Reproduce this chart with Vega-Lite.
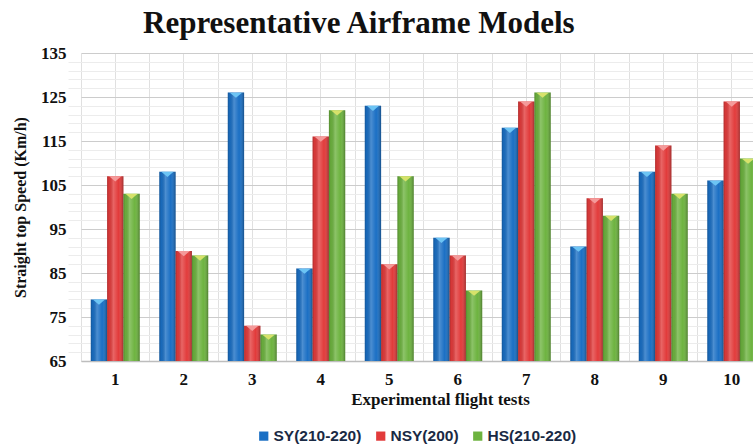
{
  "$schema": "https://vega.github.io/schema/vega-lite/v6.json",
  "autosize": "none",
  "width": 672,
  "height": 308,
  "padding": {"left": 81, "top": 53, "right": 0, "bottom": 87},
  "background": "white",
  "title": {
    "text": "Representative Airframe  Models",
    "anchor": "start",
    "frame": "group",
    "dx": 62,
    "offset": 4,
    "font": "Liberation Serif",
    "fontSize": 31,
    "fontWeight": "bold",
    "color": "#111111"
  },
  "config": {
    "view": {"stroke": null},
    "axis": {"labelFont": "Liberation Serif", "titleFont": "Liberation Serif", "labelColor": "#111111", "titleColor": "#111111"}
  },
  "data": {
    "values": [
      {"test": 1, "series": "SY(210-220)", "speed": 79},
      {"test": 1, "series": "NSY(200)", "speed": 107},
      {"test": 1, "series": "HS(210-220)", "speed": 103},
      {"test": 2, "series": "SY(210-220)", "speed": 108},
      {"test": 2, "series": "NSY(200)", "speed": 90},
      {"test": 2, "series": "HS(210-220)", "speed": 89},
      {"test": 3, "series": "SY(210-220)", "speed": 126},
      {"test": 3, "series": "NSY(200)", "speed": 73},
      {"test": 3, "series": "HS(210-220)", "speed": 71},
      {"test": 4, "series": "SY(210-220)", "speed": 86},
      {"test": 4, "series": "NSY(200)", "speed": 116},
      {"test": 4, "series": "HS(210-220)", "speed": 122},
      {"test": 5, "series": "SY(210-220)", "speed": 123},
      {"test": 5, "series": "NSY(200)", "speed": 87},
      {"test": 5, "series": "HS(210-220)", "speed": 107},
      {"test": 6, "series": "SY(210-220)", "speed": 93},
      {"test": 6, "series": "NSY(200)", "speed": 89},
      {"test": 6, "series": "HS(210-220)", "speed": 81},
      {"test": 7, "series": "SY(210-220)", "speed": 118},
      {"test": 7, "series": "NSY(200)", "speed": 124},
      {"test": 7, "series": "HS(210-220)", "speed": 126},
      {"test": 8, "series": "SY(210-220)", "speed": 91},
      {"test": 8, "series": "NSY(200)", "speed": 102},
      {"test": 8, "series": "HS(210-220)", "speed": 98},
      {"test": 9, "series": "SY(210-220)", "speed": 108},
      {"test": 9, "series": "NSY(200)", "speed": 114},
      {"test": 9, "series": "HS(210-220)", "speed": 103},
      {"test": 10, "series": "SY(210-220)", "speed": 106},
      {"test": 10, "series": "NSY(200)", "speed": 124},
      {"test": 10, "series": "HS(210-220)", "speed": 111}
    ]
  },
  "resolve": {"axis": {"x": "independent", "y": "independent"}},
  "layer": [
    {
      "mark": {"type": "bar", "clip": true},
      "encoding": {
        "x": {
          "field": "test", "type": "ordinal",
          "scale": {"range": [0, 685], "paddingInner": 0, "paddingOuter": 0},
          "axis": {
            "orient": "bottom",
            "labelAngle": 0, "labelFontSize": 17, "labelFontWeight": "bold", "labelPadding": 10,
            "ticks": false, "domainColor": "#bdbdbd", "domainWidth": 1.5,
            "grid": true, "gridColor": "#e0e0e0", "bandPosition": 0,
            "title": "Experimental flight tests", "titleFontSize": 17, "titleFontWeight": "bold",
            "titleX": 359, "titleY": 30, "titleBaseline": "top"
          }
        },
        "xOffset": {
          "field": "series", "type": "nominal",
          "sort": ["SY(210-220)", "NSY(200)", "HS(210-220)"],
          "scale": {"paddingInner": 0, "paddingOuter": 0.6}
        },
        "y": {
          "field": "speed", "type": "quantitative",
          "scale": {"domain": [65, 135], "nice": false, "zero": false},
          "axis": {
            "orient": "left",
            "values": [65, 75, 85, 95, 105, 115, 125, 135],
            "labelFontSize": 17, "labelFontWeight": "bold", "labelPadding": 15,
            "ticks": false, "domain": false,
            "grid": true, "gridColor": "#cccccc", "gridWidth": 1.2,
            "title": "Straight top Speed (Km/h)", "titleFontSize": 16, "titleFontWeight": "bold",
            "titlePadding": 12
          }
        },
        "color": {
          "field": "series", "type": "nominal",
          "sort": ["SY(210-220)", "NSY(200)", "HS(210-220)"],
          "scale": {"range": ["#1a6fc4", "#e23b3b", "#6db33f"]},
          "legend": {
            "title": null, "orient": "none", "direction": "horizontal",
            "legendX": 175, "legendY": 375,
            "symbolType": "square", "symbolSize": 85, "symbolStrokeWidth": 0,
            "labelFont": "Liberation Sans", "labelFontSize": 15.5, "labelFontWeight": "bold",
            "labelColor": "#1a2a44", "labelOffset": 2, "columnPadding": 11
          }
        }
      }
    },
    {
      "mark": {
        "type": "bar",
        "clip": true,
        "fill": {
          "gradient": "linear", "x1": 0, "y1": 0, "x2": 1, "y2": 0,
          "stops": [
            {"offset": 0, "color": "rgba(0,0,0,0.22)"},
            {"offset": 0.12, "color": "rgba(0,0,0,0.05)"},
            {"offset": 0.38, "color": "rgba(255,255,255,0.22)"},
            {"offset": 0.7, "color": "rgba(255,255,255,0)"},
            {"offset": 1, "color": "rgba(0,0,0,0.3)"}
          ]
        }
      },
      "encoding": {
        "x": {"field": "test", "type": "ordinal", "axis": null},
        "xOffset": {"field": "series", "type": "nominal", "sort": ["SY(210-220)", "NSY(200)", "HS(210-220)"]},
        "y": {"field": "speed", "type": "quantitative", "axis": null}
      }
    },
    {
      "mark": {"type": "point", "filled": true, "shape": "M-1,-0.4L1,-0.4L0,0.45Z", "size": 150, "opacity": 1, "yOffset": 2.5},
      "encoding": {
        "x": {
          "field": "test", "type": "ordinal",
          "axis": {
            "orient": "top", "labels": false, "ticks": false, "domain": false, "title": null,
            "grid": true, "gridColor": "#e0e0e0", "bandPosition": 0.5
          }
        },
        "xOffset": {"field": "series", "type": "nominal", "sort": ["SY(210-220)", "NSY(200)", "HS(210-220)"]},
        "y": {
          "field": "speed", "type": "quantitative",
          "axis": {
            "orient": "right", "labels": false, "ticks": false, "domain": false, "title": null,
            "values": [67, 69, 71, 73, 77, 79, 81, 83, 87, 89, 91, 93, 97, 99, 101, 103, 107, 109, 111, 113, 117, 119, 121, 123, 127, 129, 131, 133],
            "grid": true, "gridColor": "#ececec"
          }
        },
        "fill": {
          "field": "series", "type": "nominal",
          "sort": ["SY(210-220)", "NSY(200)", "HS(210-220)"],
          "scale": {"range": ["#6cc4f4", "#f49a9a", "#d6e26a"]},
          "legend": null
        }
      }
    }
  ]
}
